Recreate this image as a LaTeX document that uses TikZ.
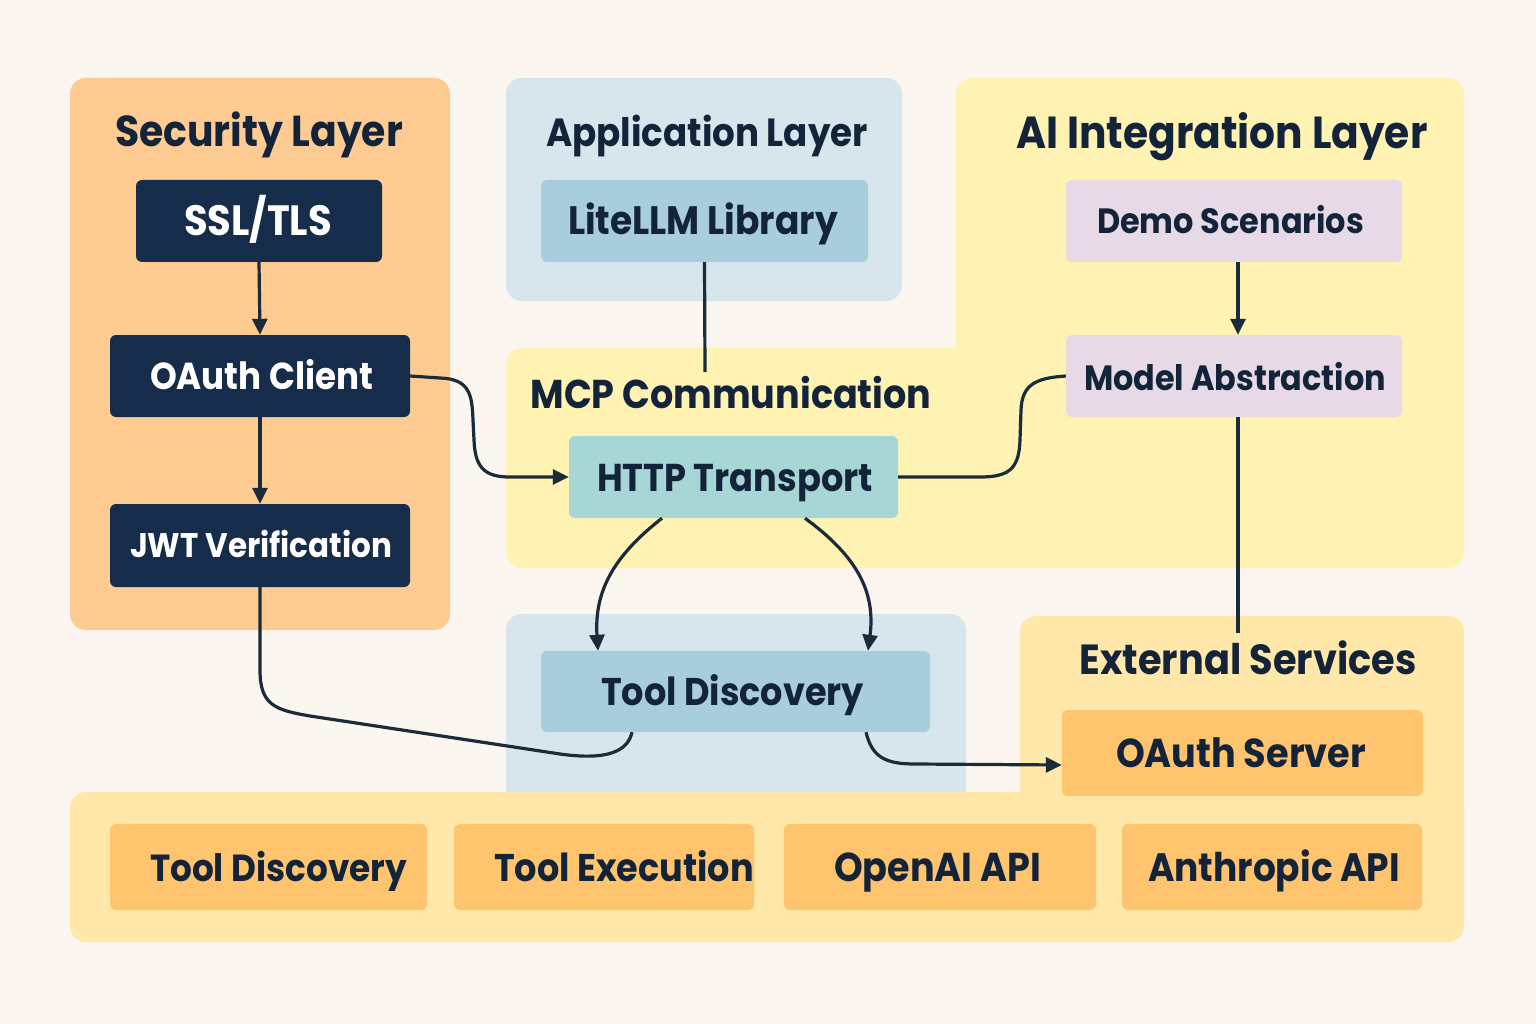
\documentclass[tikz,border=0pt]{standalone}
\usepackage{fontspec}
\setmainfont{Poppins}
\usetikzlibrary{arrows.meta,calc}
\definecolor{bgc}{HTML}{FBF6EF}
\definecolor{peach}{HTML}{FECC93}
\definecolor{paleblue}{HTML}{D7E6EC}
\definecolor{paleyellow}{HTML}{FFF3B3}
\definecolor{extyellow}{HTML}{FFE8A9}
\definecolor{orangebox}{HTML}{FEC56E}
\definecolor{navy}{HTML}{152C4B}
\definecolor{bluebox}{HTML}{A8CDDC}
\definecolor{tealbox}{HTML}{A6D6D6}
\definecolor{lavender}{HTML}{E7DAE6}
\definecolor{ink}{HTML}{13233A}
\definecolor{linec}{HTML}{1B2B3A}
\newcommand\fitw[2]{{\setbox0\hbox{\bfseries\fontsize{10}{12}\selectfont #2}\dimen0=\wd0\relax\pgfmathsetmacro\fsz{10*#1/\the\dimen0}\fontsize{\fsz}{\fsz}\bfseries\selectfont\smash{\raisebox{-0.54\fontcharht\font`\H}{\scalebox{1}[1.1]{#2}}}}}
\tikzset{
  x=1pt,y=-1pt,
  cbox/.style={rounded corners=6, inner sep=0pt},
  arr/.style={draw=linec, line width=3.2pt, -{Triangle[length=16pt,width=15pt]}},
  plain/.style={draw=linec, line width=3.2pt},
  ttl/.style={text=ink, inner sep=0pt},
}
\begin{document}
\begin{tikzpicture}
\fill[bgc] (0,0) rectangle (1536,1024);
\useasboundingbox (0,0) rectangle (1536,1024);
% containers
\fill[peach, rounded corners=16] (70,78) rectangle (450,630);
\fill[paleblue, rounded corners=16] (506,78) rectangle (902,301);
\fill[paleyellow, rounded corners=16] (956,78) rectangle (1464,420);
\fill[paleyellow, rounded corners=16] (506,348) rectangle (1464,568);
\fill[paleblue, rounded corners=16] (506,614) rectangle (966,820);
\fill[extyellow, rounded corners=16] (1020,616) rectangle (1464,940);
\fill[extyellow, rounded corners=16] (70,792) rectangle (1464,942);
% titles
\node[ttl] (tsec) at (259,132) {\fitw{288}{Security Layer}};
\node[ttl] (tapp) at (707,133) {\fitw{322}{Application Layer}};
\node[ttl] (tai) at (1222,133) {\fitw{411}{AI Integration Layer}};
\node[ttl] (tmcp) at (731,395) {\fitw{401}{MCP Communication}};
\node[ttl] (text) at (1248,660) {\fitw{337}{External Services}};
% boxes
\node[cbox, fill=navy, minimum width=246, minimum height=82] (ssl) at (259,221) {};
\node[cbox, fill=navy, minimum width=300, minimum height=82] (oac) at (260,376) {};
\node[cbox, fill=navy, minimum width=300, minimum height=83] (jwt) at (260,545.5) {};
\node[cbox, fill=bluebox, minimum width=327, minimum height=82] (lite) at (704.5,221) {};
\node[cbox, fill=lavender, minimum width=336, minimum height=82] (demo) at (1234,221) {};
\node[cbox, fill=lavender, minimum width=336, minimum height=82] (model) at (1234,376) {};
\node[cbox, fill=tealbox, minimum width=329, minimum height=82] (http) at (733.5,477) {};
\node[cbox, fill=bluebox, minimum width=389, minimum height=81] (td) at (735.5,691.5) {};
\node[cbox, fill=orangebox, minimum width=361, minimum height=86] (osrv) at (1242.5,753) {};
\node[cbox, fill=orangebox, minimum width=317, minimum height=86] (btd) at (268.5,867) {};
\node[cbox, fill=orangebox, minimum width=300, minimum height=86] (bte) at (604,867) {};
\node[cbox, fill=orangebox, minimum width=312, minimum height=86] (boa) at (940,867) {};
\node[cbox, fill=orangebox, minimum width=300, minimum height=86] (ban) at (1272,867) {};
% box labels
\node[ttl, text=white] (sslL) at (258,221) {\fitw{148}{SSL/TLS}};
\node[ttl, text=white] (oacL) at (261.5,377) {\fitw{223}{OAuth Client}};
\node[ttl, text=white] (jwtL) at (261,546) {\fitw{262}{JWT Verification}};
\node[ttl] (liteL) at (703,221) {\fitw{270}{LiteLLM Library}};
\node[ttl] (demoL) at (1230.5,221) {\fitw{267}{Demo Scenarios}};
\node[ttl] (modelL) at (1235,378) {\fitw{302}{Model Abstraction}};
\node[ttl] (httpL) at (735,478) {\fitw{276}{HTTP Transport}};
\node[ttl] (tdL) at (732.5,692) {\fitw{263}{Tool Discovery}};
\node[ttl] (osrvL) at (1241,754) {\fitw{250}{OAuth Server}};
\node[ttl] (btdL) at (278.5,868) {\fitw{257}{Tool Discovery}};
\node[ttl] (bteL) at (624,868) {\fitw{260}{Tool Execution}};
\node[ttl] (boaL) at (937.5,868) {\fitw{207}{OpenAI API}};
\node[ttl] (banL) at (1274,868) {\fitw{252}{Anthropic API}};
% free ends
\coordinate (liteend) at (705,372);
\coordinate (modelend) at (1238,633);
% connectors
\draw[arr] (ssl.south) -- (oac.north);
\draw[arr] (oac.south) -- (jwt.north);
\draw[arr] ([xshift=4]demo.south) -- ([xshift=4]model.north);
\draw[plain] (lite.south) -- (liteend);
\draw[plain] ([xshift=4]model.south) -- (modelend);
\draw[arr] (oac.east) -- (440,378) .. controls (470,379) and (472,395) .. (473,420) -- (474,440) .. controls (475,468) and (485,477) .. (510,477) -- (http.west);
\draw[plain] (http.east) -- (980,477) .. controls (1010,477) and (1019,468) .. (1020,440) -- (1021,410) .. controls (1022,385) and (1035,378) .. (model.west);
\draw[arr] ([xshift=-71.5]http.south) .. controls (615,555) and (594,590) .. ([xshift=-137.5]td.north);
\draw[arr] ([xshift=71.5]http.south) .. controls (855,555) and (876,590) .. ([xshift=132.5]td.north);
\draw[plain] (jwt.south) -- (260,670) .. controls (260,705) and (275,710) .. (310,716) -- (560,754) .. controls (610,761) and (628,750) .. ([xshift=-103.5]td.south);
\draw[arr] ([xshift=130.5]td.south) .. controls (872,757) and (885,764) .. (915,764) -- ([yshift=-12]osrv.west);
\end{tikzpicture}
\end{document}
